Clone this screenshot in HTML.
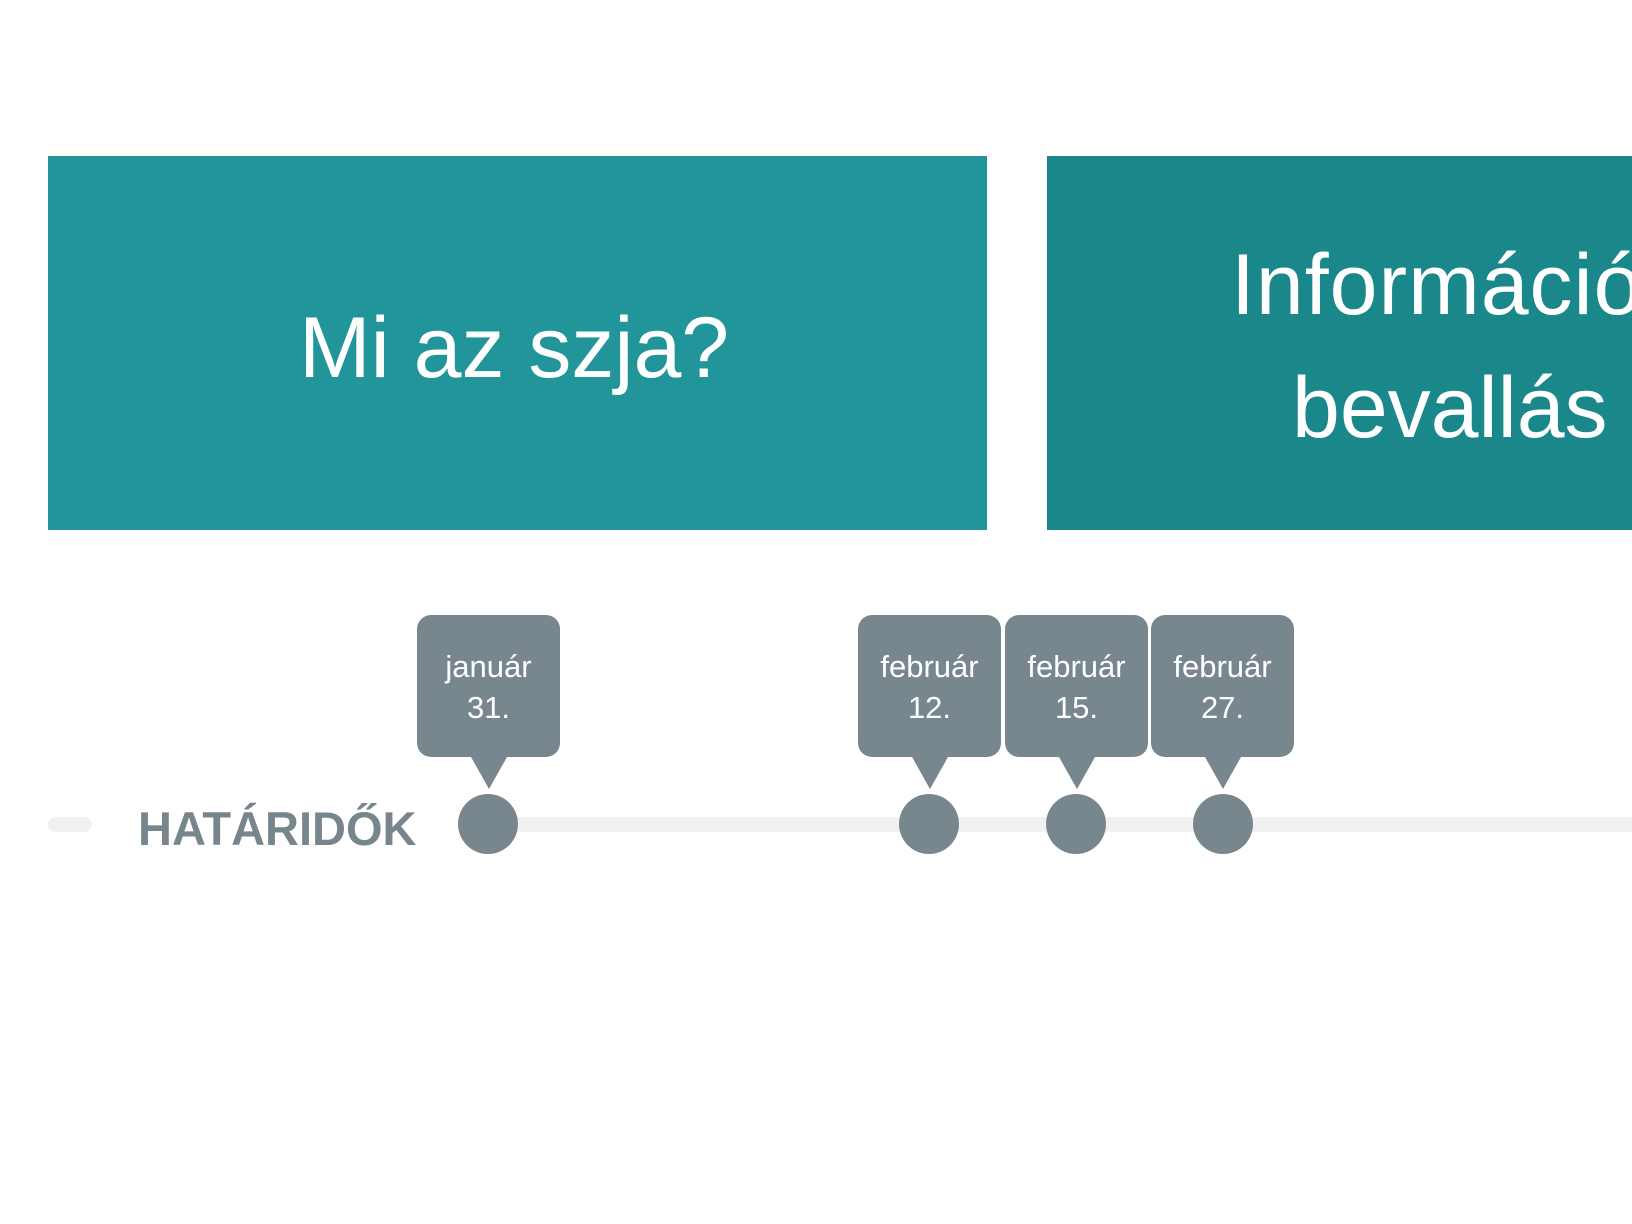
<!DOCTYPE html>
<html><head><meta charset="utf-8"><style>
body{margin:0;width:1632px;height:1224px;background:#fff;position:relative;overflow:hidden;font-family:"Liberation Sans",sans-serif}
.a{position:absolute}
.box{position:absolute;top:156px;height:374px}
.t{position:absolute;color:#fff;font-size:86px;white-space:nowrap;line-height:1}
.bub{position:absolute;top:615px;width:143px;height:142px;background:#78878e;border-radius:14px;color:#fff;font-size:31px;text-align:center;line-height:41px;box-sizing:border-box;padding-top:31px}
.bub:after{content:"";position:absolute;left:54px;top:142px;border-left:18px solid transparent;border-right:18px solid transparent;border-top:32px solid #78878e}
.c{position:absolute;top:794px;width:60px;height:60px;border-radius:50%;background:#78878e}
</style></head><body>
<div class="box" style="left:48px;width:939px;background:#21959a"></div>
<div class="box" style="left:1047px;width:600px;background:#1a878a"></div>
<div class="t" style="left:299px;top:305px">Mi az szja?</div>
<div class="t" style="left:1231px;top:242px;letter-spacing:1px">Információ</div>
<div class="t" style="left:1292px;top:365px">bevallás</div>
<div class="a" style="left:48px;top:817px;width:44px;height:15px;background:#f1f1f1;border-radius:8px"></div>
<div class="a" style="left:480px;top:817px;width:1200px;height:15px;background:#f1f1f1"></div>
<div class="a" style="left:138px;top:805px;font-size:47px;font-weight:bold;color:#77858c;line-height:1">HATÁRIDŐK</div>
<div class="bub" style="left:417px">január<br>31.</div>
<div class="bub" style="left:858px">február<br>12.</div>
<div class="bub" style="left:1005px">február<br>15.</div>
<div class="bub" style="left:1151px">február<br>27.</div>
<div class="c" style="left:458px"></div>
<div class="c" style="left:899px"></div>
<div class="c" style="left:1046px"></div>
<div class="c" style="left:1193px"></div>
</body></html>
